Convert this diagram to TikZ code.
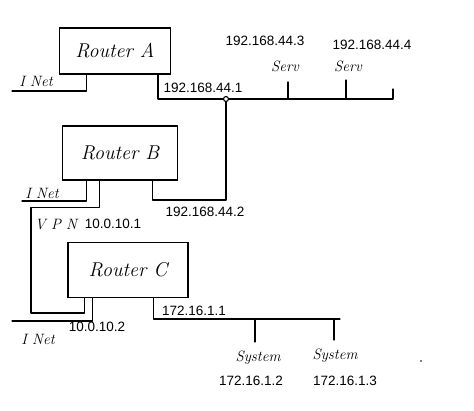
\documentclass[tikz,border=0pt]{standalone}
\usepackage{fontspec}
\setsansfont{Liberation Sans}
\begin{document}
\begin{tikzpicture}[x=1pt,y=-1pt,
  wire/.style={line width=1.1pt,line join=round,line cap=round},
  router/.style={draw,line width=1.1pt,font=\itshape\fontsize{20}{20}\selectfont,inner sep=0pt},
  ip/.style={font=\sffamily\fontsize{13.5}{14}\selectfont,inner sep=0pt},
  hand/.style={font=\itshape\fontsize{15}{15}\selectfont,inner sep=0pt}]
\useasboundingbox (0,0) rectangle (474,410);
% routers
\node[router,minimum width=111pt,minimum height=46pt] (A) at (115,51) {Router A};
\node[router,minimum width=115pt,minimum height=54pt] (B) at (120,153) {Router B};
\node[router,minimum width=120pt,minimum height=55pt] (C) at (128,270) {Router C};
% hub on the 192.168.44.x bus
\node[draw,circle,line width=1.1pt,inner sep=0pt,minimum size=5pt] (hub) at (226,99) {};
% free ends
\coordinate (inA) at (12,91);
\coordinate (inB) at (22,201);
\coordinate (inC) at (12,321);
\coordinate (busE) at (393,99);
\coordinate (busEt) at (393,89);
\coordinate (s3) at (288,82);
\coordinate (s4) at (346,80);
\coordinate (busC) at (340,319);
\coordinate (sy2) at (255,342);
\coordinate (sy3) at (334,340);
% Router A
\draw[wire] ([xshift=27.5pt]A.south west) |- (inA);
\draw[wire] ([xshift=99pt]A.south west) |- (hub);
\draw[wire] (hub) -- (busE) -- (busEt);
\draw[wire] (s3) -- (s3 |- hub);
\draw[wire] (s4) -- (s4 |- hub);
% hub to Router B
\draw[wire] (hub) |- (226,200) -| ([xshift=90.5pt]B.south west);
% Router B
\draw[wire] ([xshift=24.5pt]B.south west) |- (inB);
\draw[wire] ([xshift=37.5pt]B.south west) -- ++(0,27) -| (31,313) -| ([xshift=17pt]C.south west);
% Router C
\draw[wire] ([xshift=25pt]C.south west) |- (inC);
\draw[wire] ([xshift=86pt]C.south west) |- (busC);
\draw[wire] (sy2) -- (sy2 |- busC);
\draw[wire] (sy3) -- (sy3 |- busC);
% labels
\node[ip] (l441) at (203,88) {192.168.44.1};
\node[ip] (l443) at (265,41) {192.168.44.3};
\node[ip] (l444) at (372,45) {192.168.44.4};
\node[hand] (sv3) at (285,66) {Serv};
\node[hand] (sv4) at (348,66) {Serv};
\node[hand] (netA) at (36,81) {I Net};
\node[hand] (netB) at (42,193) {I Net};
\node[hand] (netC) at (38,339) {I Net};
\node[ip] (l442) at (205,212) {192.168.44.2};
\node[hand] (vpn) at (56,225) {V P N};
\node[ip] (l101) at (113,224) {10.0.10.1};
\node[ip] (l102) at (97,327) {10.0.10.2};
\node[ip] (l1611) at (194,311) {172.16.1.1};
\node[hand] (sys2) at (258,358) {System};
\node[hand] (sys3) at (335,356) {System};
\node[ip] (l1612) at (251,381) {172.16.1.2};
\node[ip] (l1613) at (345,381) {172.16.1.3};
\fill (421,361) circle (0.9pt);
\end{tikzpicture}
\end{document}
